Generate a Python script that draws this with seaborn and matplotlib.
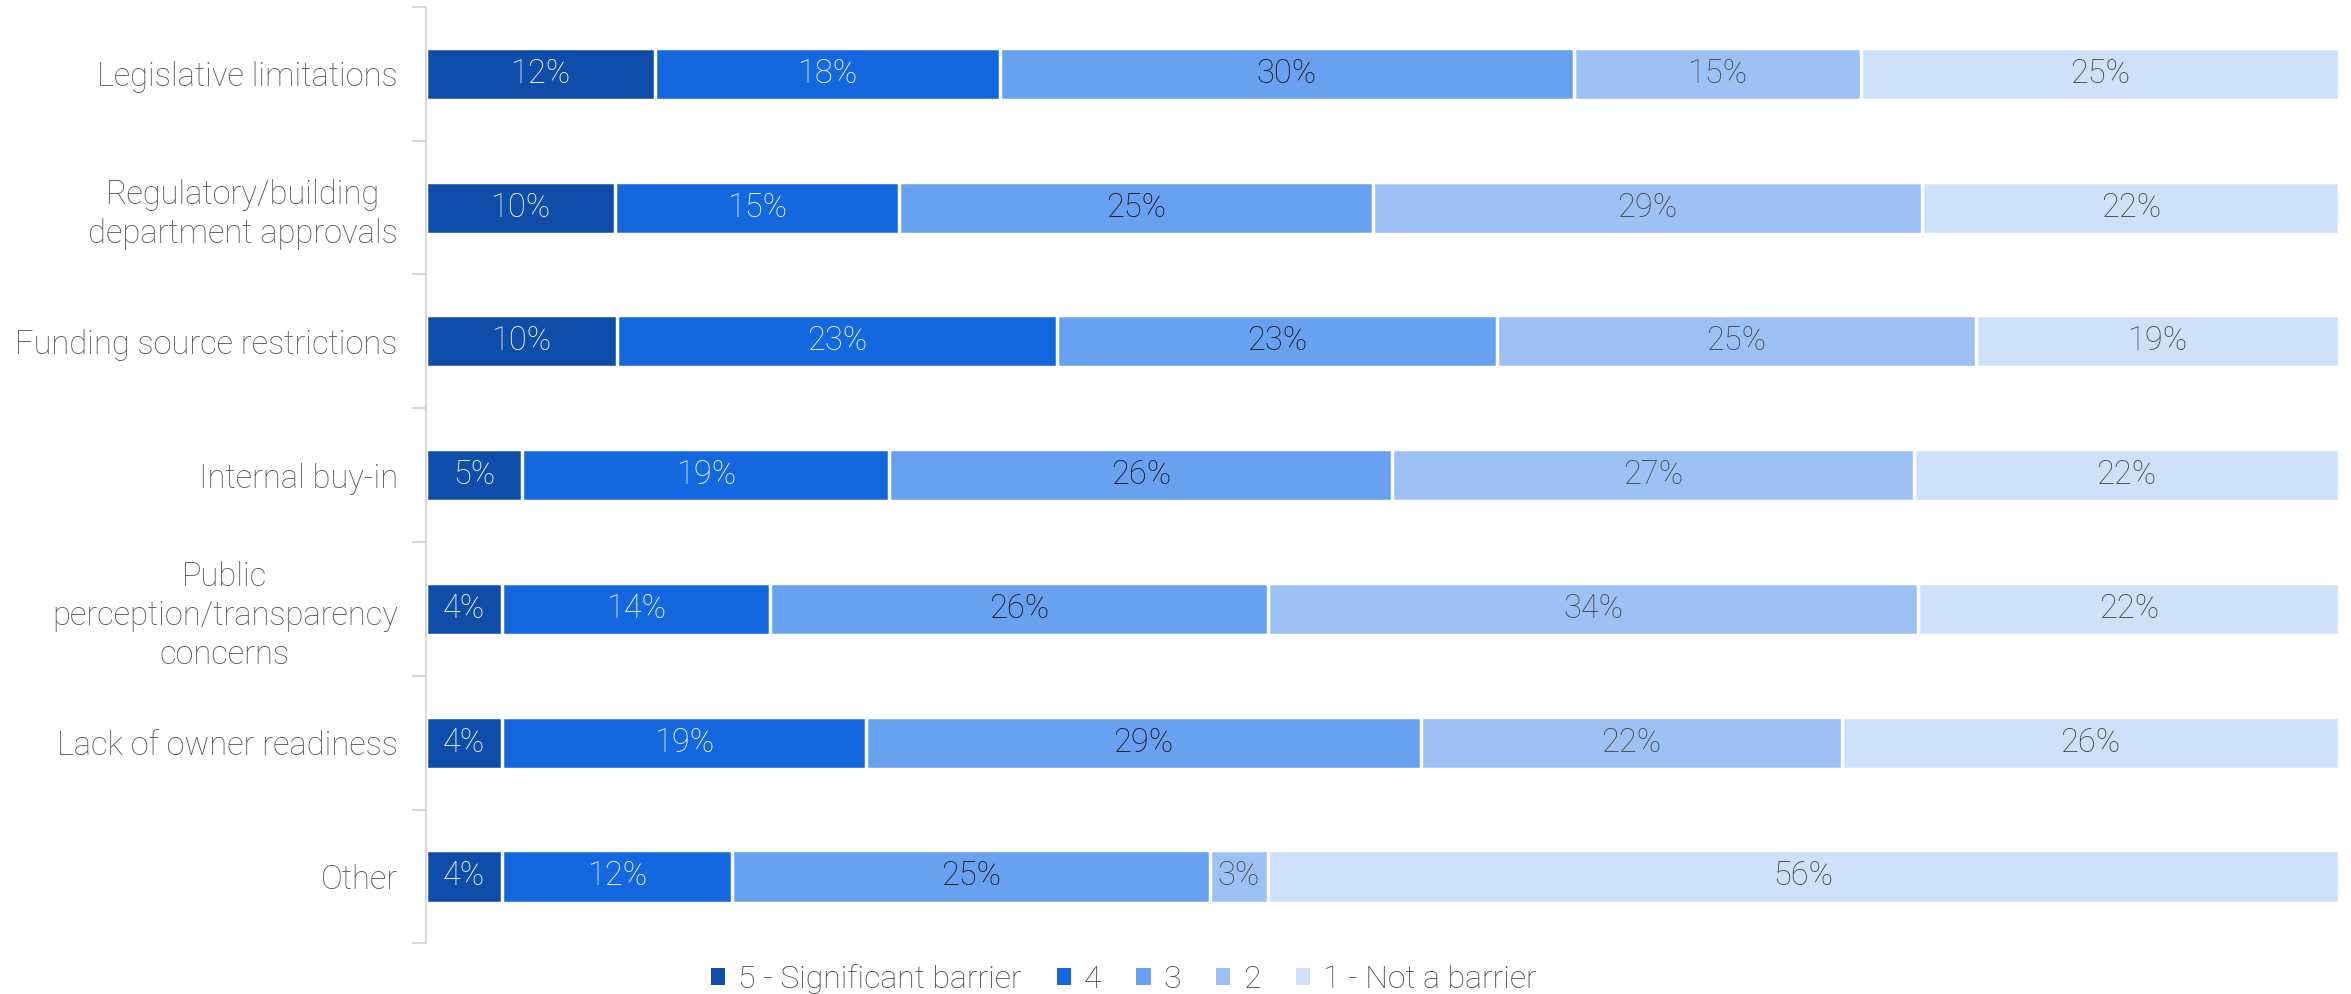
import pandas as pd
import numpy as np
import matplotlib.pyplot as plt
import seaborn as sns
from matplotlib.patches import Patch

# Data
categories = ['Legislative limitations', 'Regulatory/building\ndepartment approvals',
              'Funding source restrictions', 'Internal buy-in',
              'Public\nperception/transparency\nconcerns', 'Lack of owner readiness', 'Other']
levels = ['5 - Significant barrier', '4', '3', '2', '1 - Not a barrier']
lvl5 = [12, 10, 10, 5, 4, 4, 4]
lvl4 = [18, 15, 23, 19, 14, 19, 12]
lvl3 = [30, 25, 23, 26, 26, 29, 25]
lvl2 = [15, 29, 25, 27, 34, 22, 3]
lvl1 = [25, 22, 19, 22, 22, 26, 56]

colors = ['#0f4daa', '#1368e0', '#68a1f0', '#9dc1f5', '#cfe0fa']
text_colors = ['white', 'white', '#111111', '#444444', '#444444']

sns.set_style('white')
plt.rcParams['font.family'] = ['Roboto', 'DejaVu Sans']
plt.rcParams['font.weight'] = 'light'

vals = np.array([lvl5, lvl4, lvl3, lvl2, lvl1], dtype=float)
# each bar fills the full width
shares = vals / vals.sum(axis=0) * 100
cum = shares.cumsum(axis=0)

df = pd.DataFrame({'category': categories})

fig = plt.figure(figsize=(23.51, 9.94), dpi=100)
ax = fig.add_axes([0.181, 0.051, 0.814, 0.942])

# overlay cumulative bars, widest first
for i in range(4, -1, -1):
    df['end'] = cum[i]
    sns.barplot(data=df, x='end', y='category', orient='h', color=colors[i],
                saturation=1, width=0.39, edgecolor='white', linewidth=2.5, ax=ax)

for i in range(5):
    starts = cum[i] - shares[i]
    for j in range(len(categories)):
        ax.text(starts[j] + shares[i][j] / 2, j, f'{int(vals[i][j])}%',
                ha='center', va='center', fontsize=23.5, color=text_colors[i],
                fontweight='light')

ax.set_xlim(0, 100)
ax.set_ylim(len(categories) - 0.5, -0.5)
ax.set_xlabel('')
ax.set_ylabel('')
ax.set_xticks([])

# ticks between categories, labels at centres
ax.set_yticks(np.arange(len(categories)))
ax.set_yticklabels(categories, fontsize=23.5, color='#555555', fontweight='light',
                   multialignment='center', linespacing=1.28)
ax.tick_params(axis='y', which='major', left=False, length=0, pad=20)
ax.set_yticks(np.arange(-0.5, len(categories), 1), minor=True)
ax.tick_params(axis='y', which='minor', left=True, length=10, width=1.5, color='#d9d9d9')

for s in ['top', 'right', 'bottom']:
    ax.spines[s].set_visible(False)
ax.spines['left'].set_color('#d9d9d9')
ax.spines['left'].set_linewidth(1.5)

handles = [Patch(facecolor=c, edgecolor='none') for c in colors]
fig.legend(handles, levels, loc='center', bbox_to_anchor=(0.478, 0.015), ncol=5,
           frameon=False, fontsize=23, handlelength=0.45, handleheight=0.45,
           handletextpad=0.4, columnspacing=1.1, labelcolor='#444444')

fig.savefig('out.png', dpi=100)
